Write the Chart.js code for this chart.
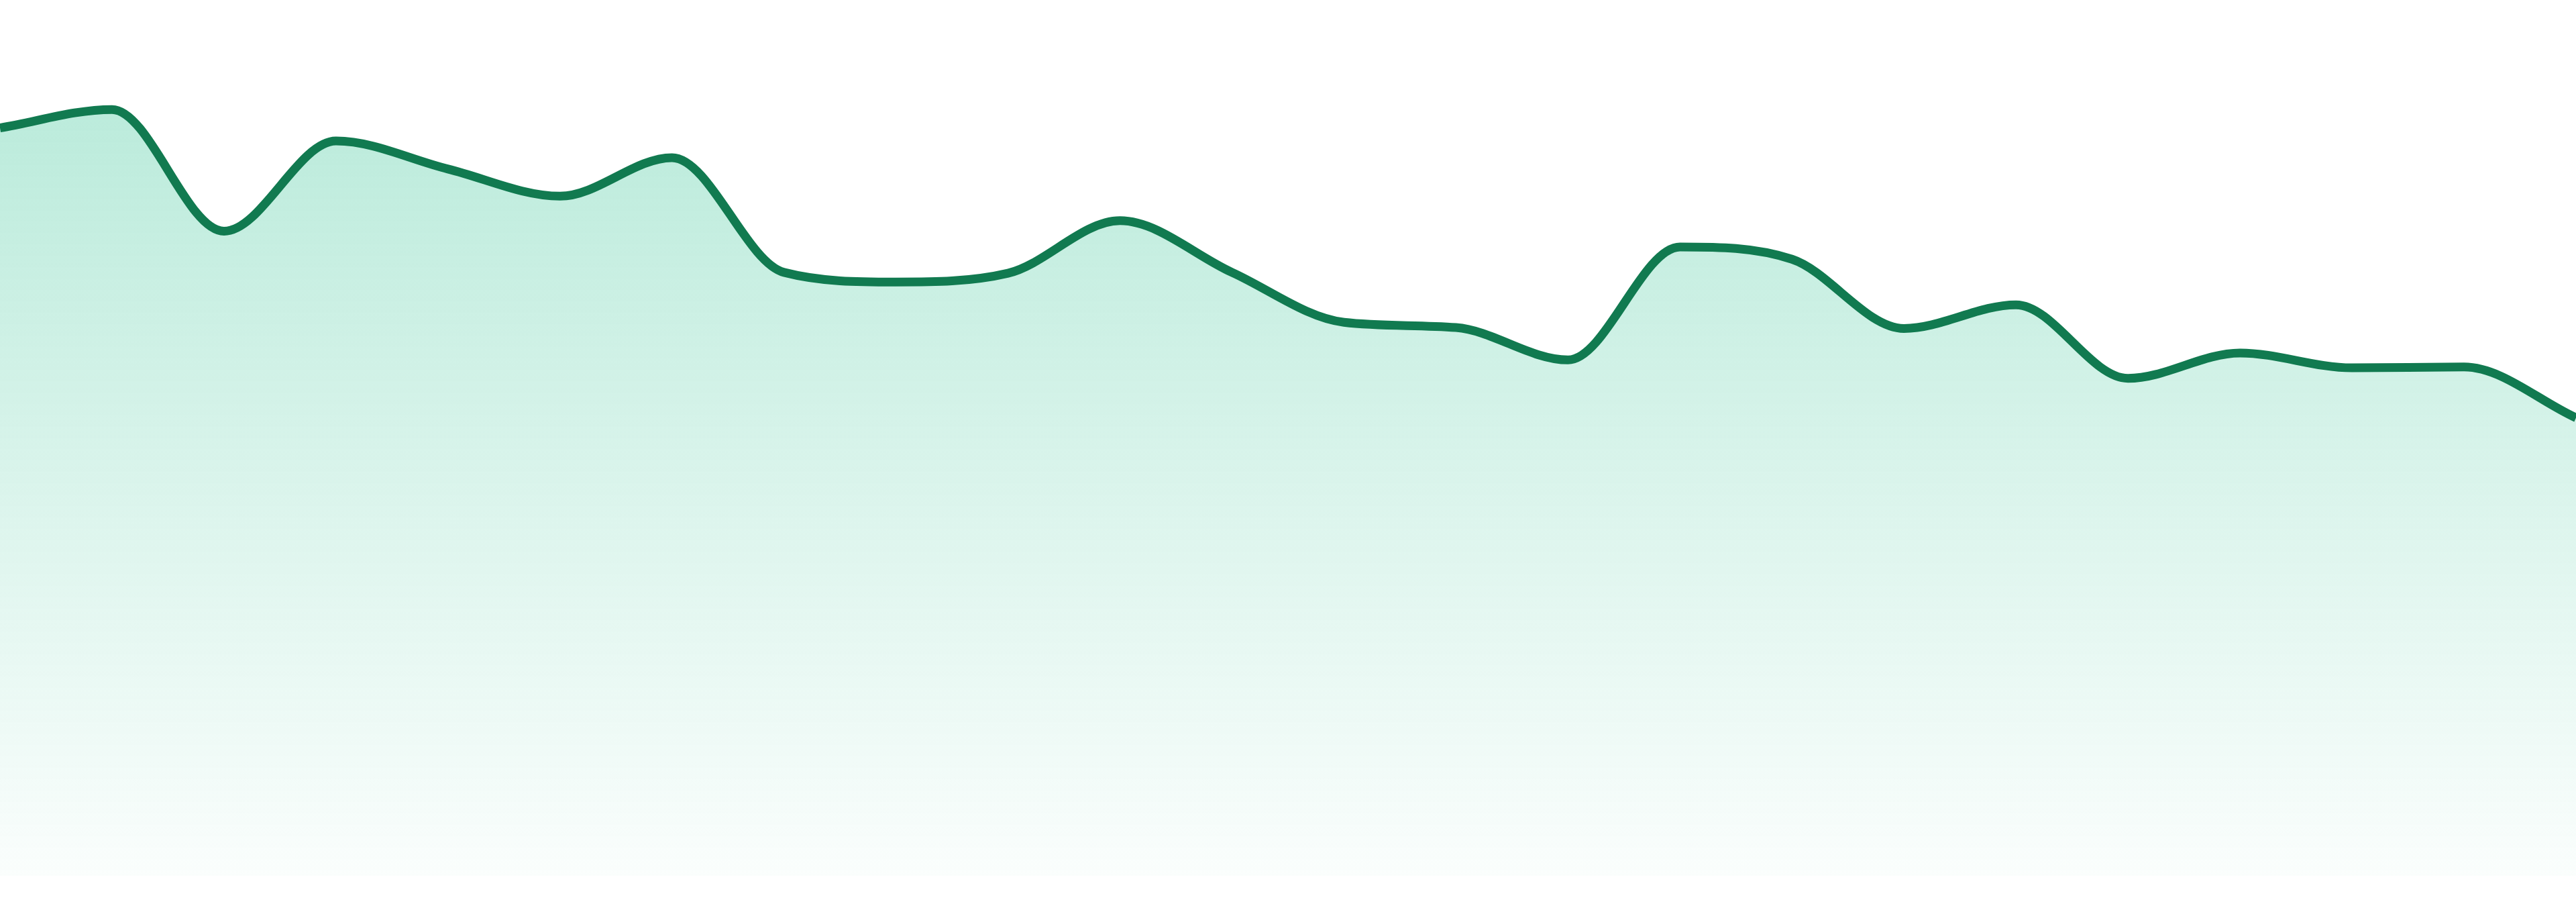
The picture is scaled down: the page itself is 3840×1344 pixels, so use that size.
<!DOCTYPE html>
<html>
<head>
<meta charset="utf-8">
<script src="https://cdn.jsdelivr.net/npm/chart.js@4"></script>
<style>
    html, body { margin: 0; padding: 0; background: #ffffff; overflow: hidden; }
    canvas { display: block; }
</style>
</head>
<body>
<canvas id="myChart" width="3840" height="1344"></canvas>
<script>
// values (no axis shown, so 0-100 scale)
var labels = ['1', '2', '3', '4', '5', '6', '7', '8', '9', '10', '11', '12',
              '13', '14', '15', '16', '17', '18', '19', '20', '21', '22', '23', '24'];
var values = [85.4, 87.5, 73.6, 83.9, 80.7, 77.6, 82.0, 68.9, 67.8, 68.8, 74.8, 68.9,
              63.2, 62.6, 58.9, 71.8, 70.4, 62.5, 65.2, 56.8, 59.7, 58.0, 58.1, 52.3];
var yMin = 0;
var yMax = 100;

window.addEventListener('load', function() {
    var ctx = document.getElementById('myChart').getContext('2d');
    var chart = new Chart(ctx, {
        type: 'line',
        data: {
            labels: labels,
            datasets: [{
                data: values,
                borderColor: '#117a50',
                borderWidth: 13,
                pointRadius: 0,
                pointHoverRadius: 0,
                cubicInterpolationMode: 'monotone',
                fill: 'start',
                backgroundColor: function(context) {
                    var area = context.chart.chartArea;
                    if (!area) return 'rgba(16,185,129,0.3)';
                    var g = context.chart.ctx.createLinearGradient(0, area.top, 0, area.bottom);
                    g.addColorStop(0, 'rgba(16,185,129,0.32)');
                    g.addColorStop(1, 'rgba(16,185,129,0.02)');
                    return g;
                }
            }]
        },
        options: {
            responsive: false,
            devicePixelRatio: 1,
            animation: false,
            layout: { padding: { left: 0, right: 0, top: 0, bottom: 39 } },
            plugins: {
                legend: { display: false },
                tooltip: { enabled: false }
            },
            scales: {
                x: { display: false, offset: false },
                y: { display: false, min: yMin, max: yMax }
            }
        }
    });
});
</script>
</body>
</html>
